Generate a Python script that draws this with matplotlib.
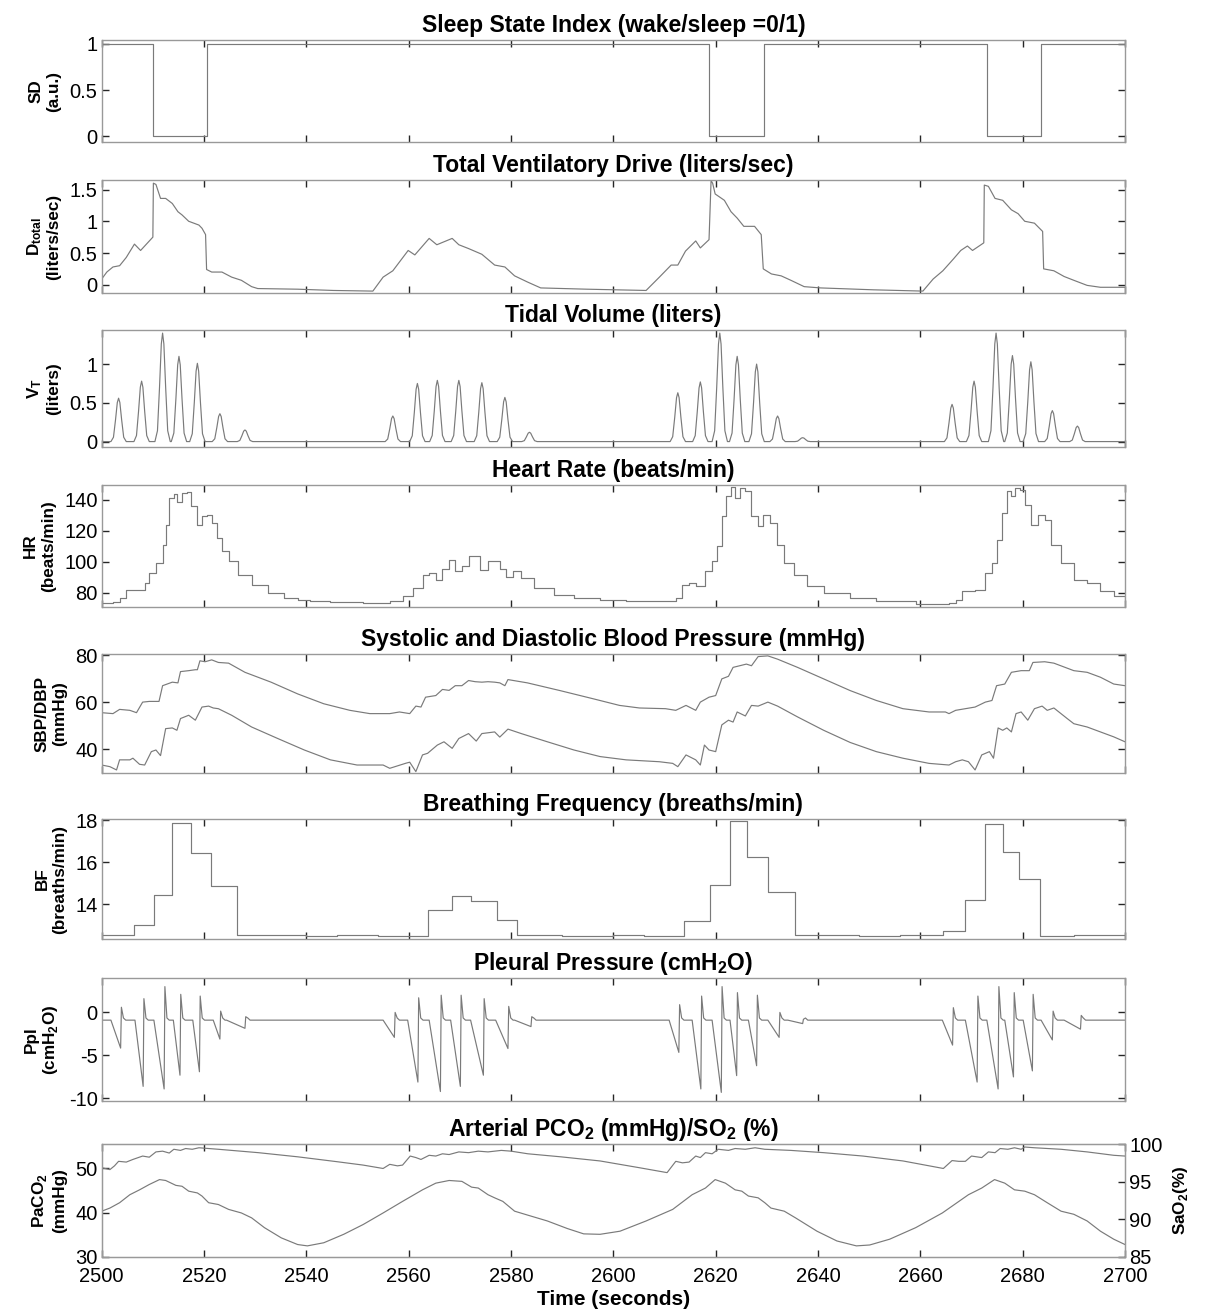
import matplotlib.pyplot as plt
import numpy as np

plt.rcParams['font.family'] = ['Liberation Sans', 'DejaVu Sans']
plt.rcParams['mathtext.fontset'] = 'custom'
plt.rcParams['mathtext.rm'] = 'Liberation Sans'
plt.rcParams['mathtext.bf'] = 'Liberation Sans:bold'
plt.rcParams['axes.unicode_minus'] = False

# ---- data ----
# sleep state (wake/sleep = 0/1), step changes
sd_t = [2500, 2510.0, 2520.6, 2618.7, 2629.4, 2673.0, 2683.6, 2700]
sd_v = [1, 0, 1, 0, 1, 0, 1, 1]

# total ventilatory drive
dt_t = [2500, 2501, 2502.2, 2503.5, 2504.8, 2506.4, 2507.6, 2510, 2510.1, 2510.6, 2511.5, 2512.5,
        2513.8, 2514.9, 2515.7, 2517, 2519, 2519.6, 2520.3, 2520.5, 2521.5, 2523.5, 2525.4, 2527.3,
        2529.3, 2530.5, 2538.3, 2545.3, 2553, 2555, 2556.9, 2559.9, 2561.2, 2564, 2565.5, 2568.5,
        2569.8, 2571.7, 2574.3, 2576.8, 2578.8, 2580.7, 2583.3, 2585.8, 2594.8, 2606.4, 2609,
        2611.3, 2612.6, 2614.1, 2616.1, 2617, 2618.7, 2619.1, 2619.4, 2619.9, 2621.7, 2623, 2624.2,
        2625.5, 2627.6, 2628.9, 2629.3, 2630.9, 2632.8, 2634.7, 2637.3, 2640.5, 2650.9, 2660.5,
        2662.5, 2664.4, 2666.4, 2667.9, 2669.2, 2670.2, 2672.4, 2672.5, 2673.3, 2674.6, 2676.1,
        2677.8, 2679.1, 2680.4, 2682.3, 2683.9, 2684.1, 2686.1, 2688.1, 2690, 2692.6, 2695.2, 2700]
dt_v = [0.09, 0.2, 0.28, 0.3, 0.43, 0.64, 0.54, 0.75, 1.6, 1.58, 1.36, 1.36,
        1.28, 1.15, 1.1, 1.0, 0.94, 0.89, 0.79, 0.24, 0.2, 0.2, 0.12, 0.07,
        -0.03, -0.06, -0.07, -0.09, -0.1, 0.12, 0.22, 0.54, 0.47, 0.73, 0.63, 0.73,
        0.63, 0.57, 0.48, 0.31, 0.28, 0.14, 0.04, -0.05, -0.07, -0.09, 0.12,
        0.31, 0.31, 0.53, 0.69, 0.58, 0.71, 1.64, 1.6, 1.43, 1.33, 1.15, 1.05,
        0.92, 0.92, 0.79, 0.25, 0.17, 0.14, 0.07, -0.03, -0.05, -0.08, -0.1,
        0.09, 0.22, 0.4, 0.54, 0.61, 0.54, 0.66, 1.57, 1.55, 1.36, 1.33,
        1.18, 1.12, 1.0, 0.97, 0.84, 0.25, 0.22, 0.13, 0.07, -0.01, -0.04, -0.04]

# tidal volume: breath peak times and heights
vt_peak_t = [2503.3, 2507.8, 2511.9, 2515.1, 2518.7, 2523.1, 2528.0,
             2556.9, 2561.7, 2565.6, 2569.8, 2574.3, 2578.8, 2583.6,
             2612.6, 2617.0, 2620.8, 2624.2, 2628.0, 2632.1, 2637.0,
             2666.2, 2670.5, 2674.8, 2678.0, 2681.6, 2685.8, 2690.7]
vt_peak = [0.56, 0.78, 1.40, 1.10, 1.01, 0.36, 0.15,
           0.33, 0.75, 0.79, 0.79, 0.76, 0.57, 0.12,
           0.63, 0.77, 1.40, 1.10, 1.00, 0.33, 0.05,
           0.48, 0.78, 1.40, 1.11, 1.03, 0.40, 0.20]
# shape of one breath (seconds from peak, fraction of peak)
breath_dt = [-1.5, -1.0, -0.6, -0.25, 0.0, 0.25, 0.6, 1.0, 1.5]
breath_fr = [0.0, 0.1, 0.5, 0.9, 1.0, 0.9, 0.5, 0.1, 0.0]

# heart rate
hr_t = [2500, 2502.2, 2503.5, 2504.8, 2506.1, 2507.4, 2508.4, 2509.3, 2510.6, 2511.9, 2512.5,
        2513.2, 2514.1, 2514.8, 2515.7, 2516.6, 2517.4, 2518.7, 2519.6, 2520.5, 2521.5, 2522.6,
        2523.5, 2524.8, 2526.7, 2529.3, 2532.5, 2535.7, 2538.3, 2540.8, 2544.7, 2551.1, 2556.3,
        2558.8, 2560.8, 2562.7, 2564, 2565.3, 2566.6, 2567.9, 2569.1, 2570.4, 2571.7, 2572.7,
        2574, 2575.5, 2576.8, 2577.8, 2579.1, 2580.4, 2581.9, 2584.5, 2588.4, 2592.3, 2597.4,
        2602.5, 2609, 2612.2, 2613.5, 2614.8, 2616.1, 2618, 2619.3, 2620.3, 2621.2, 2622.1,
        2622.9, 2623.8, 2624.7, 2625.8, 2627, 2628.3, 2629.3, 2630.6, 2631.9, 2633.4, 2635.4,
        2637.9, 2641.1, 2646.3, 2651.4, 2659.1, 2665.6, 2666.9, 2668.2, 2670.7, 2672.7, 2674,
        2674.9, 2675.9, 2676.9, 2677.8, 2678.5, 2679.5, 2680.4, 2681.7, 2683, 2684.3, 2685.5,
        2687.5, 2690.1, 2692.6, 2695.2, 2697.8, 2700]
hr_v = [73.3, 73.7, 76.5, 82, 81.5, 82, 86, 92.7, 99.2, 111, 124,
        141, 144, 139, 144.6, 145, 136, 124, 129.5, 130.5, 125, 115.4,
        106.8, 100.3, 91.7, 85.2, 79.8, 76.5, 75.5, 74.4, 73.7, 73.3, 74.4,
        77.6, 83, 91.7, 92.7, 88.4, 95, 101, 93.8, 97.5, 103.5, 103.5,
        94.5, 100.3, 100.3, 95, 90.2, 93.8, 89.5, 83, 78.7, 76.5, 75,
        74.4, 74.4, 76.5, 85.2, 86.3, 84, 93.8, 100.3, 110, 129.5, 142.4,
        148.5, 141.3, 147.8, 145.7, 129.5, 123, 130.5, 125, 111, 99.2, 91.7,
        84, 79.8, 76.5, 74.4, 72.9, 73.3, 75.5, 80.9, 82, 92.7, 99.2,
        114.3, 131.6, 145.7, 142.4, 147.8, 146.7, 137, 124, 130.5, 127.3, 111,
        99.2, 88.4, 86.3, 80.9, 77.6, 75.9]

# systolic blood pressure
sbp_t = [2500, 2502.2, 2503.5, 2505.5, 2506.8, 2508, 2509.3, 2511.2, 2511.9, 2513.8, 2514.9,
         2515.4, 2517, 2518.3, 2518.7, 2519.2, 2520.2, 2521.5, 2522.8, 2524.8, 2528, 2533.1,
         2538.3, 2543.4, 2548.5, 2552.4, 2556.3, 2558.2, 2560.2, 2561.4, 2562.4, 2563.3,
         2565.3, 2566.6, 2567.9, 2569.1, 2570.4, 2571.7, 2573, 2574.3, 2575.5, 2576.8, 2577.8,
         2578.8, 2579.4, 2583.2, 2589.6, 2596.1, 2601.2, 2605.1, 2610.2, 2612.2, 2614.2,
         2616.1, 2617, 2618.7, 2620, 2621.2, 2622.5, 2623.4, 2624.7, 2626, 2627, 2628.3,
         2630.2, 2632.1, 2636, 2641.1, 2646.3, 2651.4, 2656.6, 2661.7, 2664.9, 2665.6,
         2666.9, 2668.8, 2670.7, 2672.7, 2674, 2674.9, 2676.5, 2677.8, 2679.7, 2681.3, 2682,
         2684.3, 2686.1, 2690, 2692.6, 2695.2, 2697.8, 2700]
sbp_v = [55.5, 55.1, 56.9, 56.5, 55.5, 60, 60.3, 60.3, 67, 68.5, 68.2,
         73, 73.4, 73.8, 73.8, 77.6, 77.2, 78, 76.9, 76.6, 72.7, 68.5,
         63.5, 59.3, 56.5, 55.1, 55.1, 55.8, 55.1, 58.3, 57.9, 62.1,
         62.8, 65.4, 65, 67, 67, 69.2, 68.7, 68.5, 68.7, 68.5, 68.2,
         67, 69.6, 68.2, 64.9, 61.4, 58.6, 57.5, 57.2, 56.5, 58.6,
         56.5, 60, 62.1, 62.8, 69.9, 71, 74.8, 75.5, 76.2, 75.5, 79.4,
         79.7, 78.3, 74.8, 69.9, 64.9, 60.7, 57.2, 55.8, 55.8, 55.1,
         56.5, 57.2, 57.9, 60, 60.7, 67, 67.7, 72.7, 73.4, 73.4, 76.9,
         77.2, 76.6, 73.4, 72.7, 70.6, 67.7, 67]

# diastolic blood pressure
dbp_t = [2500, 2501.6, 2502.9, 2503.5, 2505.5, 2506.1, 2507.4, 2508.4, 2509.7, 2510.6, 2511.5,
         2512.5, 2513.8, 2514.7, 2515.4, 2517, 2518.3, 2519.6, 2520.9, 2521.8, 2522.8, 2525.4,
         2529.3, 2534.4, 2539.6, 2544.7, 2549.9, 2555, 2556.3, 2559.5, 2560.2, 2561.4, 2562.7,
         2563.7, 2565.6, 2566.9, 2568.5, 2569.8, 2571.7, 2573.2, 2574.3, 2576.8, 2577.8,
         2579.4, 2582, 2587.1, 2592.3, 2597.4, 2602.5, 2609, 2611.6, 2612.6, 2614.2, 2616.1,
         2617, 2617.8, 2618.7, 2620, 2621.2, 2622.5, 2623.4, 2624.2, 2625.8, 2627, 2628.3,
         2630.2, 2632.1, 2636, 2641.1, 2646.3, 2651.4, 2656.6, 2661.7, 2665.6, 2666.9, 2668.2,
         2669.4, 2670.7, 2672, 2673.5, 2674.3, 2675.2, 2676.1, 2676.9, 2677.8, 2678.7, 2679.7,
         2681, 2682.3, 2683.8, 2684.8, 2686.1, 2688.7, 2690, 2692.6, 2695.2, 2697.8, 2700]
dbp_v = [33.2, 32.5, 31.1, 35.4, 35.4, 36.1, 33.5, 33.2, 38.9, 39.6, 37.2,
         48.7, 49, 48, 53, 54.4, 52.3, 57.9, 58.3, 57.5, 57.2, 54.4,
         49.4, 44.5, 39.6, 35.4, 33.2, 33.2, 31.8, 34, 34.4, 30.4, 37.5,
         38.2, 41.7, 43.1, 40.3, 44.5, 46.6, 43.4, 46.6, 47.3, 45.1,
         48.5, 46.6, 43.1, 39.6, 36.8, 35.4, 34.6, 33.9, 32.5, 37.5, 35.4,
         33.2, 41.7, 39.6, 38.9, 50.3, 52.3, 51.5, 55.8, 54.1, 58.6, 58.3,
         60, 58.3, 53.7, 48, 42.8, 38.9, 36.1, 33.9, 33.2, 34.6, 35.4,
         34.6, 31.1, 37.5, 38.9, 36.1, 49, 48, 49, 47.3, 55.1, 55.8,
         52.3, 57.2, 58.3, 56.5, 57.5, 53, 50.8, 49.4, 47.3, 45.2, 43.1]

# breathing frequency, step changes
bf_t = [2500, 2506.4, 2510.3, 2513.8, 2517.4, 2521.4, 2526.4, 2540, 2546, 2554,
        2563.8, 2568.5, 2572.2, 2577.3, 2581.2, 2590, 2600, 2606,
        2613.8, 2618.9, 2622.8, 2626.1, 2630.2, 2635.5, 2648, 2656,
        2664.4, 2668.7, 2672.6, 2676.1, 2679.3, 2683.4, 2690, 2700]
bf_v = [12.55, 13.03, 14.47, 17.84, 16.43, 14.87, 12.55, 12.5, 12.55, 12.5,
        13.75, 14.4, 14.15, 13.25, 12.55, 12.5, 12.55, 12.5,
        13.2, 14.9, 17.95, 16.25, 14.6, 12.55, 12.5, 12.55,
        12.75, 14.2, 17.8, 16.5, 15.2, 12.5, 12.55, 12.55]

# pleural pressure: per breath ramp start, trough time/value, spike value
ppl_base = -0.9
ppl_ramp_t = [2501.8, 2506.5, 2510.2, 2514.0, 2517.8, 2521.8, 2524.4,
              2555.0, 2559.8, 2564.0, 2568.2, 2572.1, 2577.0, 2580.7,
              2610.9, 2615.4, 2619.3, 2622.8, 2626.4, 2630.2, 2634.1,
              2664.3, 2668.8, 2673.0, 2676.5, 2680.1, 2683.6, 2688.1]
ppl_trough_t = [2503.7, 2508.1, 2512.2, 2515.3, 2519.1, 2523.1, 2528.0,
                2557.2, 2561.8, 2566.2, 2570.1, 2574.6, 2579.4, 2583.9,
                2612.8, 2617.1, 2621.1, 2624.1, 2628.0, 2632.4, 2637.0,
                2666.3, 2671.1, 2675.2, 2678.2, 2681.9, 2685.8, 2691.3]
ppl_trough = [-4.15, -8.6, -8.9, -7.3, -6.9, -3.1, -1.85,
              -2.9, -8.1, -9.2, -8.6, -7.3, -4.2, -1.65,
              -4.65, -8.9, -9.3, -7.35, -6.2, -2.9, -1.3,
              -3.8, -8.1, -8.9, -7.5, -6.8, -3.2, -1.95]
ppl_spike = [0.6, 1.6, 3.0, 2.1, 1.9, 0.15, -0.5,
             0.0, 1.7, 2.0, 2.0, 1.6, 0.7, -0.5,
             0.9, 1.9, 3.0, 2.3, 2.0, 0.0, -0.8,
             0.55, 1.9, 3.0, 2.3, 2.1, 0.15, -0.35]

# arterial PCO2 (left axis) and SaO2 (right axis)
pco2_t = [2500, 2501.6, 2503.5, 2505.5, 2507.4, 2509.3, 2511.3, 2512.5, 2514.5, 2515.7, 2517,
          2518.7, 2519.6, 2520.9, 2522.8, 2524.8, 2527.3, 2529.3, 2531.8, 2535.1, 2538.3,
          2540.2, 2543.4, 2547.3, 2551.1, 2555, 2558.8, 2562.7, 2565.3, 2567.9, 2570.4, 2572.3,
          2573.6, 2575.5, 2576.8, 2578.4, 2580.7, 2583.3, 2587.1, 2591, 2594.2, 2597.4, 2601.3,
          2606.4, 2611.6, 2615.4, 2618, 2619.9, 2621.9, 2623.8, 2625.1, 2626.4, 2628.3, 2629.6,
          2630.8, 2633.4, 2635.6, 2639.8, 2643.7, 2647.5, 2650.1, 2654, 2659.1, 2664.3, 2669.4,
          2672, 2674.5, 2676.5, 2678.4, 2680.4, 2682.3, 2684.8, 2687.5, 2690, 2692.6, 2695.2,
          2697.8, 2700]
pco2_v = [40.3, 41, 42.2, 44, 45.1, 46.3, 47.4, 47.2, 46.1, 45.9, 44.8,
          44.4, 43.7, 42.2, 41.8, 40.7, 39.9, 38.8, 36.6, 34.3, 32.8,
          32.5, 33.2, 35.1, 37.3, 39.9, 42.5, 45.1, 46.6, 47.2, 47, 45.7,
          45.5, 44, 43.3, 42.5, 40.3, 39.4, 38.1, 36.4, 35.2, 35.1, 35.8,
          38.1, 40.7, 44, 45.5, 47.4, 46.6, 45.1, 44.8, 43.7, 43.3, 42.2,
          41, 40.3, 38.8, 35.8, 33.6, 32.5, 32.7, 34, 36.6, 39.9, 44,
          45.5, 47.4, 46.6, 45.1, 44.8, 44, 42.2, 40.3, 39.6, 38.1, 35.8,
          34, 32.8]
sao2_t = [2500, 2501.6, 2502.5, 2503.3, 2504.8, 2506.1, 2508, 2509.3, 2510.6, 2511.9, 2513.2,
          2514.1, 2515.4, 2516.4, 2517.7, 2519, 2522.8, 2530.6, 2538.3, 2546, 2551.1, 2555,
          2556.3, 2557.8, 2558.8, 2560.3, 2561.4, 2562.4, 2564, 2565.3, 2566.6, 2567.9, 2569.8,
          2571.7, 2573.6, 2575.5, 2578.1, 2580, 2583.3, 2589.7, 2597.4, 2605.1, 2610.5, 2612.2,
          2613.5, 2614.8, 2616.1, 2617, 2618, 2619.3, 2620.5, 2622.5, 2623.8, 2625.8, 2627.7,
          2629.6, 2634.7, 2641.1, 2648.8, 2656.6, 2664.5, 2666.2, 2667.5, 2668.8, 2670, 2672,
          2673.3, 2674.6, 2675.6, 2677.1, 2678.4, 2679.7, 2680.4, 2682.3, 2687.5, 2692.6,
          2697.8, 2700]
sao2_v = [96.85, 96.6, 97.1, 97.7, 97.6, 97.95, 98.4, 98.25, 98.95, 99.05, 98.8,
          99.3, 99.15, 99.4, 99.3, 99.5, 99.3, 98.85, 98.3, 97.65, 97.2, 96.75,
          97.3, 97.1, 97.2, 98.4, 98.2, 97.95, 98.5, 98.4, 98.7, 98.6, 98.95,
          98.85, 99.05, 98.95, 99.15, 99.05, 98.7, 98.3, 97.75, 96.85, 96.2, 97.7,
          97.5, 97.6, 98.4, 98.2, 98.85, 98.7, 99.3, 99.15, 99.4, 99.3, 99.5,
          99.3, 99.15, 98.85, 98.4, 97.75, 96.75, 97.8, 97.7, 97.7, 98.4, 98.2,
          98.95, 98.85, 99.4, 99.3, 99.5, 99.3, 99.6, 99.5, 99.3, 98.95,
          98.5, 98.4]

# ---- build breath waveforms from the per-breath values ----
vt_t, vt_v = [2500.0], [0.0]
for tp, h in zip(vt_peak_t, vt_peak):
    for d, f in zip(breath_dt, breath_fr):
        vt_t.append(tp + d)
        vt_v.append(h * f)
vt_t.append(2700.0)
vt_v.append(0.0)

ppl_t, ppl_v = [2500.0], [ppl_base]
for tr0, tt, tv, sv in zip(ppl_ramp_t, ppl_trough_t, ppl_trough, ppl_spike):
    ppl_t += [tr0, tt, tt + 0.15, tt + 0.55, tt + 1.0]
    ppl_v += [ppl_base, tv, sv, -0.65, ppl_base]
ppl_t.append(2700.0)
ppl_v.append(ppl_base)

# ---- figure ----
W, H = 1206, 1316
fig = plt.figure(figsize=(W / 100, H / 100), dpi=100)

ax_left, ax_right = 101.7, 1125
boxes = [(40, 142), (180, 293), (330, 447), (485, 607),
         (654, 773), (819, 939), (978, 1101), (1144, 1257)]

line_kw = dict(color='0.48', lw=0.85)
title_kw = dict(fontsize=16.5, fontweight='bold', pad=6)
label_kw = dict(fontsize=12.3, fontweight='bold', labelpad=6)

axes = []
for top, bot in boxes:
    ax = fig.add_axes([ax_left / W, 1 - bot / H, (ax_right - ax_left) / W, (bot - top) / H])
    ax.set_xlim(2500, 2700)
    ax.set_xticks(np.arange(2500, 2701, 20))
    ax.tick_params(direction='in', top=True, right=True, length=5, width=1,
                   color='0.15', labelsize=14.5, pad=3)
    for s in ax.spines.values():
        s.set_color('0.6')
        s.set_linewidth(1.0)
    ax.tick_params(axis='x', labelbottom=False)
    axes.append(ax)

ax = axes[0]
ax.plot(sd_t, sd_v, drawstyle='steps-post', **line_kw)
ax.set_ylim(-0.06, 1.04)
ax.set_yticks([0, 0.5, 1])
ax.set_yticklabels(['0', '0.5', '1'])
ax.set_title('Sleep State Index (wake/sleep =0/1)', **title_kw)
ax.set_ylabel('SD\n(a.u.)', **label_kw)

ax = axes[1]
ax.plot(dt_t, dt_v, **line_kw)
ax.set_ylim(-0.13, 1.65)
ax.set_yticks([0, 0.5, 1, 1.5])
ax.set_yticklabels(['0', '0.5', '1', '1.5'])
ax.set_title('Total Ventilatory Drive (liters/sec)', **title_kw)
ax.set_ylabel(r'$\mathbf{D_{total}}$' + '\n(liters/sec)', **label_kw)

ax = axes[2]
ax.plot(vt_t, vt_v, **line_kw)
ax.set_ylim(-0.07, 1.44)
ax.set_yticks([0, 0.5, 1])
ax.set_yticklabels(['0', '0.5', '1'])
ax.set_title('Tidal Volume (liters)', **title_kw)
ax.set_ylabel(r'$\mathbf{V_T}$' + '\n(liters)', **label_kw)

ax = axes[3]
ax.plot(hr_t, hr_v, drawstyle='steps-post', **line_kw)
ax.set_ylim(70.7, 149.7)
ax.set_yticks([80, 100, 120, 140])
ax.set_title('Heart Rate (beats/min)', **title_kw)
ax.set_ylabel('HR\n(beats/min)', **label_kw)

ax = axes[4]
ax.plot(sbp_t, sbp_v, **line_kw)
ax.plot(dbp_t, dbp_v, **line_kw)
ax.set_ylim(29.8, 80.5)
ax.set_yticks([40, 60, 80])
ax.set_title('Systolic and Diastolic Blood Pressure (mmHg)', **title_kw)
ax.set_ylabel('SBP/DBP\n(mmHg)', **label_kw)

ax = axes[5]
ax.plot(bf_t, bf_v, drawstyle='steps-post', **line_kw)
ax.set_ylim(12.36, 18.05)
ax.set_yticks([14, 16, 18])
ax.set_title('Breathing Frequency (breaths/min)', **title_kw)
ax.set_ylabel('BF\n(breaths/min)', **label_kw)

ax = axes[6]
ax.plot(ppl_t, ppl_v, **line_kw)
ax.set_ylim(-10.3, 4.0)
ax.set_yticks([-10, -5, 0])
ax.set_title(r'Pleural Pressure (cmH$_\mathbf{2}$O)', **title_kw)
ax.set_ylabel('Ppl\n' + r'(cmH$_\mathbf{2}$O)', **label_kw)

ax = axes[7]
ax.plot(pco2_t, pco2_v, **line_kw)
ax.set_ylim(30, 55.4)
ax.set_yticks([30, 40, 50])
ax.tick_params(axis='y', right=False)
ax.tick_params(axis='x', labelbottom=True, pad=7)
ax.set_title(r'Arterial PCO$_\mathbf{2}$ (mmHg)/SO$_\mathbf{2}$ (%)', **title_kw)
ax.set_ylabel(r'PaCO$_\mathbf{2}$' + '\n(mmHg)', **label_kw)
ax.set_xlabel('Time (seconds)', fontsize=15, fontweight='bold', labelpad=3)

ax2 = ax.twinx()
ax2.plot(sao2_t, sao2_v, **line_kw)
ax2.set_ylim(85, 100)
ax2.set_yticks([85, 90, 95, 100])
ax2.tick_params(direction='in', length=5, width=1, color='0.15', labelsize=14.5, pad=3)
for s in ax2.spines.values():
    s.set_color('0.6')
ax2.set_ylabel(r'SaO$_\mathbf{2}$(%)', fontsize=12.3, fontweight='bold', labelpad=6)
ax2.set_xlim(2500, 2700)

fig.savefig('out.png', dpi=100)
